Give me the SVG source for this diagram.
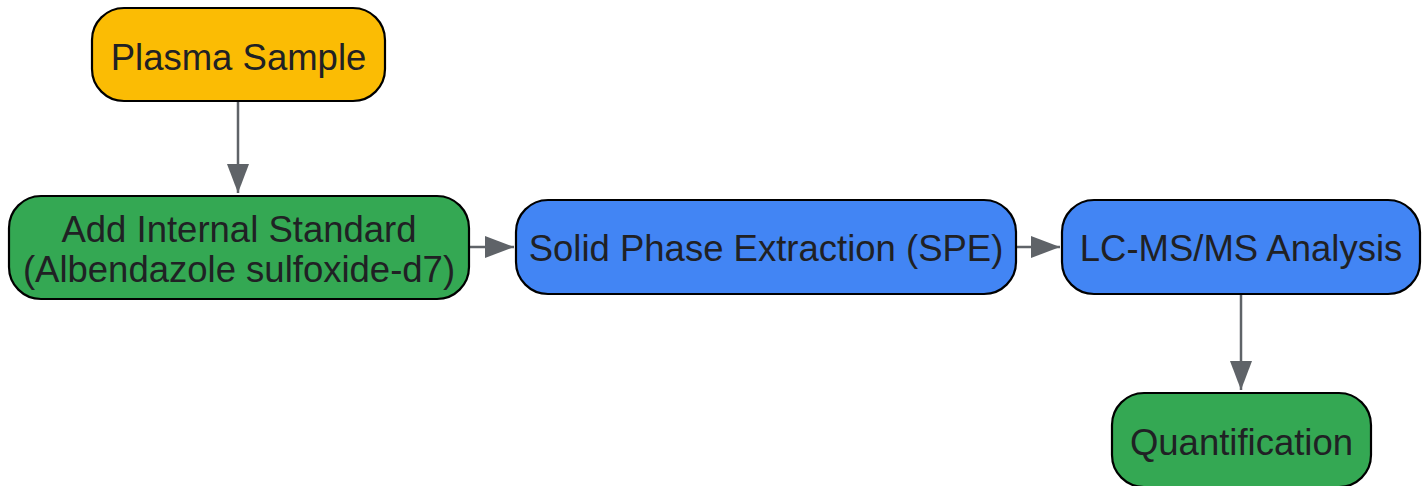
<svg xmlns="http://www.w3.org/2000/svg" width="1428" height="486" viewBox="0 0 1428 486">
<defs>
<marker id="ah" viewBox="0 0 29 22" refX="29" refY="11" markerWidth="29" markerHeight="22" markerUnits="userSpaceOnUse" orient="auto">
<path d="M0,0 L29,11 L0,22 Z" fill="#5f6368"/>
</marker>
<style>
.n{stroke:#000;stroke-width:2.2}
.t{font-family:"Liberation Sans",Arial,sans-serif;font-size:36.5px;fill:#202124;text-anchor:middle}
.c{stroke:#5f6368;stroke-width:2.5;fill:none;marker-end:url(#ah)}
</style>
</defs>
<rect width="1428" height="486" fill="#fff"/>
<g id="connectors">
<path class="c" d="M238,101 L238,193"/>
<path class="c" d="M469,247 L514,247"/>
<path class="c" d="M1016,247 L1060,247"/>
<path class="c" d="M1241,294 L1241,390"/>
</g>
<g id="plasma">
<rect class="n" x="92" y="8" width="293" height="93" rx="32" fill="#fbbc04"/>
<text class="t" x="238.5" y="70">Plasma Sample</text>
</g>
<g id="add-is">
<rect class="n" x="9" y="196" width="460" height="103" rx="32" fill="#34a853"/>
<text class="t" x="239" y="242">Add Internal Standard</text>
<text class="t" x="239" y="282">(Albendazole sulfoxide-d7)</text>
</g>
<g id="spe">
<rect class="n" x="516" y="200" width="500" height="94" rx="32" fill="#4285f4"/>
<text class="t" x="766" y="261">Solid Phase Extraction (SPE)</text>
</g>
<g id="lcms">
<rect class="n" x="1062" y="200" width="358" height="94" rx="32" fill="#4285f4"/>
<text class="t" x="1241" y="261">LC-MS/MS Analysis</text>
</g>
<g id="quant">
<rect class="n" x="1112" y="393" width="259" height="94" rx="32" fill="#34a853"/>
<text class="t" x="1241.5" y="455">Quantification</text>
</g>
</svg>
